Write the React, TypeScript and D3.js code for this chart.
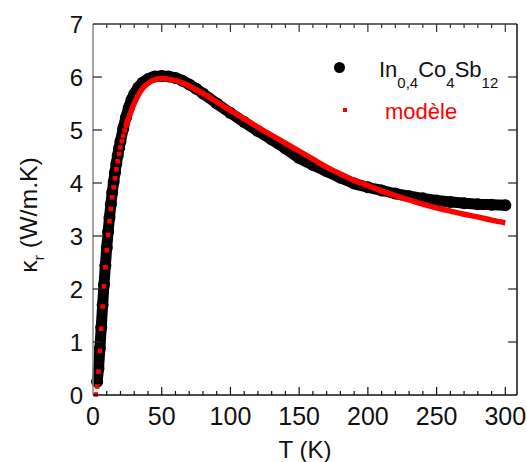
import React from "react";
import * as d3 from "d3";

// Measured data In0,4Co4Sb12 : T (K) and kappa_r (W/m.K)
const dataT = [3, 4, 5, 6, 7, 8, 9, 10, 11, 12, 13, 14, 15, 16, 17, 18, 19, 20, 22, 24, 26, 28, 30, 33, 36, 40, 45, 50, 55, 60, 65, 70, 75, 80, 90, 100, 110, 120, 130, 140, 150, 160, 170, 180, 190, 200, 210, 220, 230, 240, 250, 260, 270, 280, 290, 300];
const dataK = [0.25, 0.5, 0.88, 1.28, 1.7, 2.08, 2.45, 2.78, 3.08, 3.35, 3.6, 3.82, 4.02, 4.2, 4.37, 4.52, 4.66, 4.79, 5.03, 5.24, 5.42, 5.57, 5.68, 5.8, 5.89, 5.96, 6.01, 6.02, 6.01, 5.98, 5.93, 5.86, 5.78, 5.69, 5.5, 5.32, 5.15, 4.98, 4.82, 4.65, 4.47, 4.34, 4.22, 4.1, 3.99, 3.92, 3.86, 3.8, 3.75, 3.71, 3.67, 3.64, 3.62, 3.6, 3.59, 3.58];

// Model ("modèle"), discrete low-T points
const modelLowT = [2, 3, 4, 5, 6, 7, 8, 9, 10, 11, 12, 13, 14, 15, 16, 17, 18, 19, 20, 21, 22, 23, 24, 25];
const modelLowK = [0.01, 0.16, 0.44, 0.83, 1.25, 1.67, 2.05, 2.41, 2.73, 3.02, 3.28, 3.51, 3.73, 3.92, 4.09, 4.26, 4.41, 4.55, 4.67, 4.79, 4.89, 4.99, 5.08, 5.16];
// Model, dense part (drawn as a continuous band of points)
const modelHighT = [24, 25, 27, 30, 33, 36, 40, 45, 50, 55, 60, 65, 70, 75, 80, 90, 100, 110, 120, 130, 140, 150, 160, 170, 180, 190, 200, 210, 220, 230, 240, 250, 260, 270, 280, 290, 300];
const modelHighK = [5.08, 5.16, 5.3, 5.5, 5.66, 5.78, 5.88, 5.95, 5.97, 5.96, 5.93, 5.89, 5.83, 5.76, 5.69, 5.53, 5.37, 5.21, 5.05, 4.9, 4.75, 4.6, 4.45, 4.3, 4.17, 4.05, 3.95, 3.85, 3.76, 3.68, 3.6, 3.53, 3.47, 3.41, 3.36, 3.3, 3.25];

const xMajor = [0, 50, 100, 150, 200, 250, 300];
const xMinor = [10, 20, 30, 40, 60, 70, 80, 90, 110, 120, 130, 140, 160, 170, 180, 190, 210, 220, 230, 240, 260, 270, 280, 290];
const yTicks = [0, 1, 2, 3, 4, 5, 6, 7];

const W = 527, H = 462;
const L = 93, R = 517, T = 24, B = 395;
const FONT = "Liberation Sans, Arial, sans-serif";

export default function App() {
  const x = d3.scaleLinear().domain([0, 308.5]).range([L, R]);
  const y = d3.scaleLinear().domain([0, 7]).range([B, T]);

  const dataPts: [number, number][] = dataT.map((t, i) => [t, dataK[i]]);
  const modelHigh: [number, number][] = modelHighT.map((t, i) => [t, modelHighK[i]]);
  const line = d3
    .line<[number, number]>()
    .x((d) => x(d[0]))
    .y((d) => y(d[1]))
    .curve(d3.curveMonotoneX);

  return (
    <svg width={W} height={H} style={{ position: "absolute", left: 0, top: 0, background: "#fff" }} fontFamily={FONT}>
      <rect x={0} y={0} width={W} height={H} fill="#fff" />
      {/* data */}
      <path d={line(dataPts) || ""} fill="none" stroke="#000" strokeWidth={11} strokeLinejoin="round" strokeLinecap="round" />
      {dataPts.map((d, i) => (
        <circle key={"c" + i} cx={x(d[0])} cy={y(d[1])} r={6} fill="#000" />
      ))}
      {/* model */}
      <path d={line(modelHigh) || ""} fill="none" stroke="#ff0000" strokeWidth={5.5} />
      {modelLowT.map((t, i) => (
        <rect key={"s" + i} x={x(t) - 2.3} y={y(modelLowK[i]) - 2.3} width={4.6} height={4.6} fill="#ff0000" />
      ))}

      {/* frame */}
      <line x1={L} y1={T} x2={L} y2={B} stroke="#888" strokeWidth={1.5} />
      <line x1={L} y1={T} x2={R} y2={T} stroke="#333" strokeWidth={1.5} />
      <line x1={R} y1={T} x2={R} y2={B} stroke="#111" strokeWidth={1.5} />
      <line x1={L} y1={B} x2={R} y2={B} stroke="#111" strokeWidth={1.5} />

      {/* x ticks */}
      {xMajor.map((v) => (
        <g key={"xm" + v}>
          {v > 0 && <line x1={x(v)} x2={x(v)} y1={B} y2={B - 8} stroke="#111" strokeWidth={1.2} />}
          {v > 0 && <line x1={x(v)} x2={x(v)} y1={T} y2={T + 8} stroke="#333" strokeWidth={1.2} />}
          <text x={x(v)} y={425} textAnchor="middle" fontSize={25} fill="#111">{v}</text>
        </g>
      ))}
      {xMinor.map((v) => (
        <g key={"xn" + v}>
          <line x1={x(v)} x2={x(v)} y1={B} y2={B - 4} stroke="#111" strokeWidth={1.2} />
          <line x1={x(v)} x2={x(v)} y1={T} y2={T + 4} stroke="#333" strokeWidth={1.2} />
        </g>
      ))}
      {/* y ticks */}
      {yTicks.map((v) => (
        <g key={"y" + v}>
          {v > 0 && v < 7 && <line x1={L} x2={L + 9} y1={y(v)} y2={y(v)} stroke="#222" strokeWidth={1.2} />}
          {v > 0 && v < 7 && <line x1={R} x2={R - 9} y1={y(v)} y2={y(v)} stroke="#222" strokeWidth={1.2} />}
          <text x={83} y={y(v)} dy="0.36em" textAnchor="end" fontSize={24} fill="#111">{v}</text>
        </g>
      ))}

      {/* axis titles */}
      <text x={305} y={458} textAnchor="middle" fontSize={24} fill="#111">T (K)</text>
      <text transform="translate(37,215) rotate(-90) scale(1.08,1)" textAnchor="middle" fontSize={23} fill="#111">
        κ<tspan fontSize={15} dy={7}>r</tspan>
        <tspan dy={-7}> (W/m.K)</tspan>
      </text>

      {/* legend */}
      <circle cx={339.5} cy={67.5} r={5.5} fill="#000" />
      <text x={379} y={77} fontSize={22} fill="#111">
        In<tspan fontSize={15} dy={11}>0,4</tspan>
        <tspan dy={-11}>Co</tspan>
        <tspan fontSize={15} dy={11}>4</tspan>
        <tspan dy={-11}>Sb</tspan>
        <tspan fontSize={15} dy={11}>12</tspan>
      </text>
      <rect x={343} y={108} width={4} height={4} fill="#ff0000" />
      <text x={385} y={119} fontSize={22} fill="#ff0000">modèle</text>
    </svg>
  );
}
